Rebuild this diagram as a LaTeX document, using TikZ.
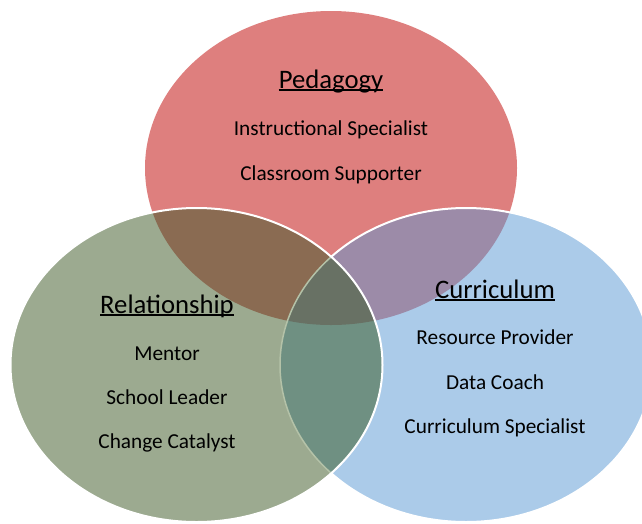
\documentclass[tikz,border=0pt]{standalone}
\usepackage{fontspec}
\setmainfont{Carlito}
\definecolor{redc}{HTML}{DE7F7E}
\definecolor{greenc}{HTML}{9CAA90}
\definecolor{bluec}{HTML}{ABCBE9}
\definecolor{brownc}{HTML}{8A6B52}
\definecolor{purplec}{HTML}{9C8BA8}
\definecolor{tealc}{HTML}{6F9082}
\definecolor{darkc}{HTML}{687164}
\definecolor{blueedge}{HTML}{B4C2A8}
\begin{document}
\begin{tikzpicture}[x=1pt,y=-1pt,
  head/.style={font=\fontsize{26.7}{30}\selectfont, inner sep=0pt, anchor=base},
  item/.style={font=\fontsize{21.3}{25}\selectfont, inner sep=0pt, anchor=base},
  ul/.style={line width=1.6pt, black},
  rim/.style={white, line width=2pt}]
\useasboundingbox (0,0) rectangle (642,523);
\def\redE{(331,168) ellipse [x radius=186, y radius=157]}
\def\greenE{(196.5,365) ellipse [x radius=186, y radius=157]}
\def\blueE{(466,365) ellipse [x radius=186, y radius=157]}
% red and blue
\fill[redc] \redE;
\fill[bluec] \blueE;
\begin{scope}
  \clip \redE;
  \fill[purplec] \blueE;
\end{scope}
\draw[rim] \blueE;
% green on top
\fill[greenc] \greenE;
\begin{scope}
  \clip \redE;
  \fill[brownc] \greenE;
\end{scope}
\begin{scope}
  \clip \blueE;
  \fill[tealc] \greenE;
  \clip \redE;
  \fill[darkc] \greenE;
\end{scope}
\begin{scope}
  \clip \greenE;
  \draw[blueedge, line width=1.5pt] \blueE;
\end{scope}
\draw[rim] \greenE;
% texts
\node[head] (ped) at (331,88) {Pedagogy};
\node[head] (rel) at (167,313) {Relationship};
\node[head] (cur) at (495,298) {Curriculum};
\foreach \h in {ped,rel,cur}
  \draw[ul] ([yshift=-1.8pt]\h.base west) -- ([yshift=-1.8pt]\h.base east);
\node[item] (p1) at (331,135) {Instructional Specialist};
\node[item] (p2) at (331,180) {Classroom Supporter};
\node[item] (r1) at (167,360) {Mentor};
\node[item] (r2) at (167,404) {School Leader};
\node[item] (r3) at (167,448) {Change Catalyst};
\node[item] (c1) at (495,344) {Resource Provider};
\node[item] (c2) at (495,389) {Data Coach};
\node[item] (c3) at (495,433) {Curriculum Specialist};
\end{tikzpicture}
\end{document}
